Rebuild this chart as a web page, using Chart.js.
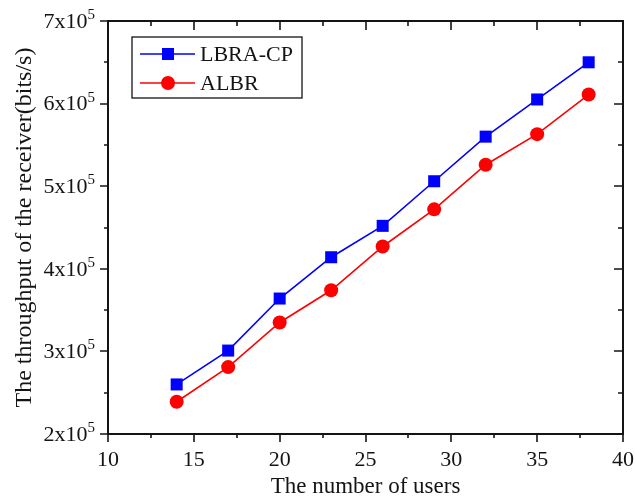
<!DOCTYPE html>
<html>
<head>
<meta charset="utf-8">
<script src="https://cdn.jsdelivr.net/npm/chart.js@4.4.0/dist/chart.umd.min.js"></script>
<style>
  html, body { margin: 0; padding: 0; background: #fff; }
</style>
</head>
<body>
<canvas id="canvas" width="635" height="501"></canvas>
<script>
// throughput vs number of users
var users  = [14, 17, 20, 23, 26, 29, 32, 35, 38];
var lbraCp = [2.60e5, 3.01e5, 3.64e5, 4.14e5, 4.52e5, 5.06e5, 5.60e5, 6.05e5, 6.50e5];
var albr   = [2.39e5, 2.81e5, 3.35e5, 3.74e5, 4.27e5, 4.72e5, 5.26e5, 5.63e5, 6.11e5];
var seriesNames = ['LBRA-CP', 'ALBR'];
var yExponent = 5;

var serif = '"Liberation Serif", "Times New Roman", serif';
var ink = '#141414';

function toPoints(xs, ys) {
  var out = [];
  for (var i = 0; i < xs.length; i++) out.push({x: xs[i], y: ys[i]});
  return out;
}

// frame, in/out ticks and the "Nx10^5" labels
var frameTicks = {
  id: 'frameTicks',
  afterDraw: function(chart) {
    var ctx = chart.ctx, a = chart.chartArea;
    var xs = chart.scales.x, ys = chart.scales.y;
    ctx.save();
    ctx.strokeStyle = ink;
    ctx.lineWidth = 2;
    ctx.strokeRect(a.left, a.top, a.right - a.left, a.bottom - a.top);

    ctx.lineWidth = 1.6;
    ctx.beginPath();
    xs.ticks.forEach(function(t) {
      var px = Math.round(xs.getPixelForValue(t.value));
      var major = t.value % 5 === 0;
      ctx.moveTo(px, a.bottom); ctx.lineTo(px, a.bottom + (major ? 8 : 4));
      ctx.moveTo(px, a.top);    ctx.lineTo(px, a.top + (major ? 9 : 5));
    });
    ys.ticks.forEach(function(t) {
      var py = Math.round(ys.getPixelForValue(t.value));
      var major = t.value % 1e5 === 0;
      ctx.moveTo(a.left - (major ? 8 : 4), py); ctx.lineTo(a.left, py);
      ctx.moveTo(a.right - (major ? 9 : 5), py); ctx.lineTo(a.right, py);
    });
    ctx.stroke();

    // y labels with superscript exponent
    ctx.fillStyle = ink;
    ctx.textBaseline = 'middle';
    ys.ticks.forEach(function(t) {
      if (t.value % 1e5 !== 0) return;
      var py = ys.getPixelForValue(t.value);
      var right = a.left - 13;
      ctx.font = '15px ' + serif;
      var wExp = ctx.measureText(String(yExponent)).width;
      ctx.textAlign = 'right';
      ctx.fillText(String(yExponent), right, py - 6);
      ctx.font = '22px ' + serif;
      ctx.fillText((t.value / 1e5) + 'x10', right - wExp, py + 1);
    });
    ctx.restore();
  }
};

// boxed legend inside the plot
var boxLegend = {
  id: 'boxLegend',
  afterDraw: function(chart) {
    var ctx = chart.ctx;
    var bx = 132, by = 37, bw = 170, bh = 61;
    ctx.save();
    ctx.fillStyle = '#fff';
    ctx.fillRect(bx, by, bw, bh);
    ctx.strokeStyle = ink;
    ctx.lineWidth = 1.3;
    ctx.strokeRect(bx, by, bw, bh);
    chart.data.datasets.forEach(function(ds, i) {
      var y = 54 + i * 29;
      ctx.strokeStyle = ds.borderColor;
      ctx.lineWidth = ds.borderWidth;
      ctx.beginPath();
      ctx.moveTo(140, y); ctx.lineTo(195, y);
      ctx.stroke();
      ctx.fillStyle = ds.pointBackgroundColor;
      if (ds.pointStyle === 'rect') {
        ctx.fillRect(162, y - 6, 12, 12);
      } else {
        ctx.beginPath();
        ctx.arc(168, y, 7, 0, Math.PI * 2);
        ctx.fill();
      }
      ctx.fillStyle = ink;
      ctx.font = '22px ' + serif;
      ctx.textAlign = 'left';
      ctx.textBaseline = 'middle';
      ctx.fillText(ds.label, 200, y + 1);
    });
    ctx.restore();
  }
};

var ctx = document.getElementById('canvas').getContext('2d');
new Chart(ctx, {
  type: 'line',
  data: {
    datasets: [{
      label: seriesNames[0],
      data: toPoints(users, lbraCp),
      borderColor: '#0000ff',
      backgroundColor: '#0000ff',
      pointBackgroundColor: '#0000ff',
      pointBorderWidth: 0,
      pointStyle: 'rect',
      pointRadius: 8.5,
      borderWidth: 1.6,
      tension: 0
    }, {
      label: seriesNames[1],
      data: toPoints(users, albr),
      borderColor: '#ff0000',
      backgroundColor: '#ff0000',
      pointBackgroundColor: '#ff0000',
      pointBorderWidth: 0,
      pointStyle: 'circle',
      pointRadius: 7,
      borderWidth: 1.6,
      tension: 0
    }]
  },
  options: {
    responsive: false,
    animation: false,
    layout: { padding: { top: 21, right: 12, left: 0, bottom: 0 } },
    plugins: { legend: { display: false }, tooltip: { enabled: false } },
    scales: {
      x: {
        type: 'linear',
        min: 10, max: 40,
        grid: { display: false, drawTicks: false },
        border: { display: false },
        ticks: {
          stepSize: 2.5,
          autoSkip: false,
          maxRotation: 0,
          padding: 13,
          color: ink,
          font: { family: serif, size: 22 },
          callback: function(v) { return v % 5 === 0 ? v : ''; }
        },
        title: {
          display: true,
          text: 'The number of users',
          color: ink,
          font: { family: serif, size: 23 },
          padding: { top: 0, bottom: 0 }
        },
        afterFit: function(s) {
          s.height = 67;
          s.paddingLeft = 0;
          s.paddingRight = 0;
        }
      },
      y: {
        min: 2e5, max: 7e5,
        grid: { display: false, drawTicks: false },
        border: { display: false },
        ticks: { stepSize: 5e4, display: false },
        title: {
          display: true,
          text: 'The throughput of the receiver(bits/s)',
          color: ink,
          font: { family: serif, size: 24 },
          padding: { top: 10, bottom: 0 }
        },
        afterFit: function(s) { s.width = 108; }
      }
    }
  },
  plugins: [frameTicks, boxLegend]
});
</script>
</body>
</html>
